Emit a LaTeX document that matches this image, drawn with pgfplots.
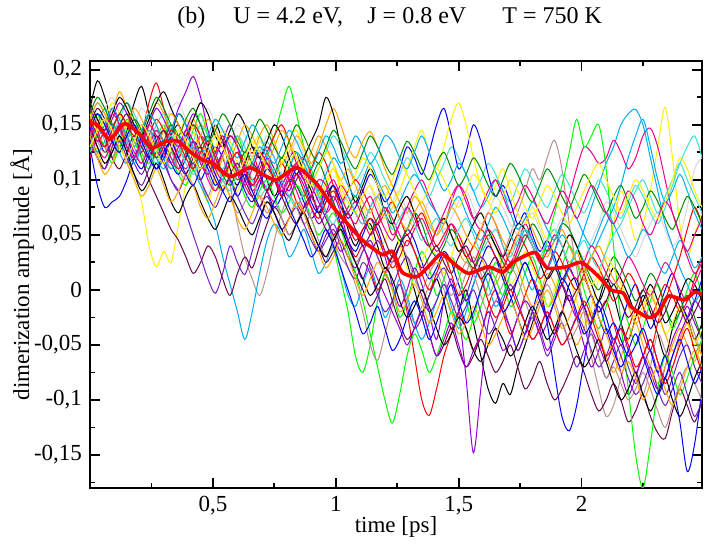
\documentclass[border=0pt]{standalone}
\usepackage{pgfplots}
\pgfplotsset{compat=1.18}
\usepackage{fontspec}
\setmainfont{Liberation Serif}
\definecolor{gbrown}{RGB}{188,143,143}
\definecolor{ggrey}{RGB}{215,215,215}
\definecolor{gviolet}{RGB}{148,0,211}
\definecolor{gorange}{RGB}{255,165,0}
\definecolor{gindigo}{RGB}{114,33,188}
\definecolor{gmaroon}{RGB}{103,7,72}
\definecolor{gturq}{RGB}{64,224,208}
\definecolor{ggreen}{RGB}{0,139,0}
\newcommand{\ser}[2]{\addplot[#1, line width=0.5bp, smooth, tension=0.5] table[row sep=\\, header=false, x expr=\coordindex*0.03, y expr=\thisrowno{0}/1000] {#2};}
\begin{document}
\fontsize{11.5bp}{13.5bp}\selectfont
\begin{tikzpicture}
\path[use as bounding box] (-45bp,-28bp) rectangle (307bp,244bp);
\begin{axis}[
  at={(0,0)}, anchor=south west, scale only axis,
  width=306bp, height=213.5bp,
  xmin=0, xmax=2.49, ymin=-0.18, ymax=0.208,
  xtick={0.5,1,1.5,2}, xticklabels={{0,5},1,{1,5},2},
  minor xtick={0.25,0.75,1.25,1.75,2.25},
  ytick={-0.15,-0.1,-0.05,0,0.05,0.1,0.15,0.2},
  yticklabels={{-0,15},{-0,1},{-0,05},0,{0,05},{0,1},{0,15},{0,2}},
  minor ytick={-0.175,-0.125,-0.075,-0.025,0.025,0.075,0.125,0.175},
  tick align=inside, major tick length=5bp, minor tick length=2.5bp,
  every tick/.style={black, line width=0.9bp},
  axis line style={line width=1bp},
  xlabel={time [ps]}, ylabel={dimerization amplitude [\symbol{"00C5}]},
  xlabel style={at={(axis description cs:0.5,-0.0913)}, anchor=center},
  ylabel style={at={(axis description cs:-0.111,0.5)}, anchor=center},
  clip=true,
]
\ser{black}{165\\190\\175\\150\\130\\145\\170\\185\\160\\135\\120\\140\\160\\150\\125\\110\\130\\150\\135\\110\\95\\115\\130\\120\\100\\85\\100\\120\\125\\105\\90\\70\\80\\95\\80\\55\\40\\55\\60\\40\\20\\30\\45\\25\\0\\-20\\-5\\10\\-10\\-35\\-20\\0\\-30\\-60\\-90\\-103\\-85\\-95\\-70\\-50\\-30\\-10\\-25\\-40\\-20\\5\\10\\-15\\-30\\-10\\10\\-5\\-30\\-45\\-25\\-5\\-20\\-40\\-60\\-35\\-15\\-25\\-45\\-30\\}
\ser{red}{140\\125\\110\\130\\150\\135\\120\\140\\170\\188\\165\\140\\125\\140\\150\\130\\115\\125\\140\\120\\100\\110\\125\\105\\90\\100\\115\\100\\80\\70\\85\\95\\70\\50\\60\\45\\30\\40\\20\\0\\15\\30\\10\\-20\\-60\\-100\\-114\\-90\\-60\\-40\\-20\\-35\\-55\\-40\\-15\\0\\-20\\-40\\-25\\-5\\10\\-5\\-25\\-10\\5\\20\\35\\15\\-5\\-20\\-10\\-30\\-50\\-35\\-20\\-40\\-55\\-30\\-10\\10\\30\\55\\75\\60\\}
\ser{green}{150\\160\\140\\120\\135\\155\\145\\125\\115\\135\\150\\130\\110\\125\\145\\160\\140\\115\\105\\125\\140\\120\\95\\100\\120\\140\\165\\185\\160\\130\\110\\90\\70\\40\\10\\-20\\-60\\-75\\-50\\-10\\15\\0\\-25\\-10\\15\\35\\20\\-5\\10\\30\\15\\-10\\-30\\-15\\5\\25\\10\\-15\\-5\\15\\30\\10\\-15\\-5\\20\\40\\25\\0\\-20\\-35\\-15\\5\\-10\\-30\\-50\\-35\\-10\\5\\-15\\-35\\-20\\0\\15\\-5\\}
\ser{blue}{130\\95\\75\\80\\85\\100\\120\\135\\125\\110\\120\\140\\150\\130\\110\\100\\115\\130\\120\\100\\85\\100\\115\\105\\90\\75\\85\\100\\95\\80\\65\\75\\90\\80\\60\\45\\35\\50\\65\\55\\35\\25\\40\\55\\45\\25\\10\\20\\35\\25\\5\\-10\\5\\25\\40\\30\\10\\-5\\-25\\-40\\-20\\0\\-30\\-75\\-115\\-128\\-105\\-65\\-30\\-10\\-25\\-45\\-30\\-10\\5\\-15\\-35\\-20\\0\\15\\-5\\-25\\-10\\10\\}
\ser{yellow}{145\\125\\110\\130\\140\\120\\100\\80\\40\\21\\35\\25\\60\\95\\110\\95\\80\\100\\120\\105\\90\\110\\130\\140\\125\\105\\115\\135\\145\\125\\100\\85\\95\\110\\90\\70\\60\\75\\55\\35\\45\\60\\40\\20\\5\\25\\40\\30\\15\\30\\50\\35\\20\\40\\55\\40\\20\\5\\15\\35\\20\\5\\-15\\0\\20\\10\\-10\\-30\\-15\\10\\35\\60\\90\\70\\45\\60\\90\\130\\166\\120\\60\\30\\50\\70\\}
\ser{gbrown}{140\\155\\135\\120\\140\\150\\130\\115\\135\\145\\125\\110\\120\\140\\125\\100\\85\\105\\120\\95\\60\\30\\10\\-5\\15\\45\\70\\85\\75\\60\\70\\85\\70\\45\\30\\20\\5\\-20\\-50\\-64\\-40\\-15\\5\\-10\\-30\\-15\\5\\15\\0\\-20\\-5\\15\\30\\15\\-5\\10\\30\\50\\70\\90\\110\\100\\120\\136\\110\\60\\20\\-20\\-60\\-90\\-115\\-105\\-80\\-60\\-75\\-95\\-70\\-40\\-55\\-70\\-45\\-25\\-40\\-60\\}
\ser{ggrey}{160\\150\\165\\175\\160\\140\\150\\165\\155\\140\\150\\165\\170\\155\\140\\150\\165\\150\\130\\135\\150\\140\\120\\125\\140\\130\\115\\120\\135\\125\\105\\95\\110\\115\\95\\80\\90\\105\\95\\75\\65\\80\\90\\70\\55\\65\\80\\70\\55\\65\\80\\90\\75\\60\\70\\85\\75\\60\\50\\60\\70\\55\\40\\50\\65\\55\\40\\30\\45\\60\\80\\70\\55\\40\\30\\45\\60\\70\\55\\40\\50\\75\\110\\120\\}
\ser{gviolet}{150\\135\\145\\165\\150\\130\\120\\140\\160\\150\\135\\145\\165\\180\\194\\175\\145\\125\\135\\150\\130\\105\\95\\115\\130\\120\\100\\90\\105\\95\\75\\60\\70\\85\\70\\45\\25\\10\\30\\45\\30\\5\\-15\\0\\20\\5\\-20\\-45\\-10\\10\\-20\\-80\\-148\\-90\\-30\\-10\\-20\\-35\\-55\\-40\\-20\\-35\\-55\\-40\\-20\\-5\\-25\\-50\\-70\\-55\\-35\\-50\\-75\\-95\\-80\\-60\\-75\\-90\\-70\\-45\\-30\\-15\\-30\\-45\\}
\ser{cyan}{130\\150\\165\\150\\125\\115\\135\\150\\140\\120\\110\\125\\140\\130\\110\\95\\80\\60\\30\\5\\-20\\-45\\-20\\15\\45\\60\\50\\30\\40\\55\\35\\15\\25\\40\\20\\-5\\-15\\5\\20\\0\\-25\\-10\\10\\-5\\-30\\-45\\-30\\-10\\5\\-15\\-35\\-20\\5\\20\\5\\-15\\-5\\15\\30\\15\\0\\20\\40\\25\\5\\20\\35\\55\\75\\95\\115\\130\\150\\160\\164\\150\\120\\90\\60\\40\\20\\5\\-10\\0\\}
\ser{magenta}{120\\140\\155\\140\\125\\135\\150\\140\\125\\130\\145\\135\\120\\110\\125\\140\\130\\110\\100\\115\\125\\105\\90\\100\\115\\105\\90\\100\\115\\120\\105\\85\\70\\80\\95\\85\\70\\60\\75\\85\\70\\50\\60\\75\\90\\100\\85\\70\\60\\80\\95\\85\\65\\55\\70\\60\\40\\25\\40\\60\\45\\30\\20\\35\\60\\85\\110\\130\\125\\115\\120\\136\\125\\110\\120\\140\\147\\130\\100\\70\\50\\30\\15\\25\\}
\ser{gorange}{170\\155\\140\\160\\180\\165\\145\\130\\150\\170\\160\\140\\125\\140\\155\\140\\120\\105\\120\\140\\130\\110\\120\\140\\150\\135\\115\\125\\140\\130\\115\\130\\150\\165\\150\\130\\120\\135\\144\\130\\110\\95\\80\\70\\85\\75\\60\\50\\65\\50\\35\\25\\40\\30\\15\\5\\20\\35\\20\\0\\-15\\-5\\15\\5\\-15\\-35\\-50\\-35\\-20\\-40\\-60\\-75\\-60\\-45\\-30\\-50\\-70\\-85\\-70\\-50\\-35\\-50\\-65\\-45\\}
\ser{gindigo}{140\\120\\110\\130\\145\\130\\115\\105\\120\\135\\120\\100\\90\\70\\50\\30\\10\\-3\\15\\40\\25\\14\\35\\60\\80\\70\\55\\65\\80\\70\\50\\35\\45\\55\\40\\20\\10\\25\\15\\-5\\-20\\-10\\5\\-15\\-35\\-25\\-5\\10\\20\\5\\-15\\-5\\15\\30\\20\\0\\-15\\-35\\-55\\-40\\-25\\-40\\-60\\-45\\-30\\-50\\-70\\-55\\-40\\-60\\-80\\-65\\-50\\-70\\-85\\-70\\-55\\-75\\-95\\-80\\-60\\-50\\-70\\-85\\}
\ser{gmaroon}{135\\150\\140\\120\\110\\125\\140\\120\\100\\85\\70\\55\\45\\30\\15\\25\\40\\30\\10\\-5\\15\\30\\20\\40\\60\\75\\65\\50\\60\\70\\55\\40\\25\\35\\45\\30\\15\\0\\-15\\-5\\10\\-10\\-30\\-45\\-35\\-20\\-40\\-60\\-50\\-35\\-55\\-70\\-60\\-45\\-60\\-75\\-65\\-50\\-70\\-90\\-80\\-65\\-85\\-100\\-90\\-75\\-60\\-75\\-95\\-110\\-100\\-85\\-100\\-120\\-110\\-95\\-115\\-130\\-135\\-110\\-90\\-105\\-120\\-100\\}
\ser{gturq}{155\\170\\160\\145\\155\\170\\160\\145\\135\\150\\160\\145\\130\\120\\135\\150\\140\\120\\110\\125\\140\\130\\115\\125\\135\\120\\105\\110\\125\\115\\100\\110\\125\\140\\130\\115\\100\\110\\125\\115\\100\\90\\105\\120\\110\\95\\85\\100\\115\\130\\120\\105\\90\\100\\115\\105\\90\\80\\95\\110\\100\\85\\75\\90\\105\\95\\80\\70\\85\\100\\90\\75\\65\\80\\95\\85\\70\\60\\75\\95\\115\\130\\140\\120\\}
\ser{ggreen}{145\\160\\150\\135\\125\\140\\155\\145\\130\\120\\135\\150\\140\\125\\115\\130\\140\\125\\105\\95\\110\\125\\115\\100\\90\\105\\120\\110\\95\\85\\100\\115\\100\\80\\65\\75\\85\\70\\55\\65\\75\\60\\45\\55\\70\\60\\40\\30\\40\\55\\45\\30\\20\\35\\50\\40\\25\\15\\30\\45\\60\\50\\35\\45\\60\\55\\40\\25\\10\\0\\15\\30\\20\\5\\-10\\0\\15\\5\\-15\\-30\\-20\\-5\\-25\\-45\\}
\ser{black}{170\\155\\145\\160\\175\\165\\150\\140\\155\\170\\180\\165\\150\\140\\155\\170\\160\\140\\130\\145\\160\\150\\130\\120\\135\\150\\140\\120\\105\\120\\135\\150\\175\\160\\130\\100\\80\\95\\110\\95\\70\\60\\75\\85\\70\\50\\40\\55\\65\\50\\35\\45\\60\\70\\55\\40\\30\\45\\60\\55\\40\\25\\10\\20\\35\\50\\40\\20\\5\\-10\\5\\20\\10\\-5\\-20\\-10\\5\\-10\\-30\\-20\\-5\\10\\5\\-10\\}
\ser{red}{160\\145\\130\\145\\160\\150\\135\\125\\140\\155\\145\\130\\120\\135\\150\\140\\125\\110\\125\\140\\130\\115\\100\\110\\125\\140\\150\\135\\115\\100\\110\\125\\115\\95\\80\\90\\100\\90\\75\\60\\70\\80\\65\\50\\60\\70\\55\\40\\50\\60\\45\\30\\40\\55\\45\\30\\20\\35\\50\\40\\25\\10\\20\\35\\25\\10\\0\\15\\30\\20\\5\\-10\\0\\15\\5\\-15\\-25\\-10\\5\\-5\\-20\\-10\\10\\30\\}
\ser{green}{125\\140\\130\\115\\130\\145\\135\\120\\110\\125\\135\\120\\105\\95\\110\\120\\105\\90\\100\\115\\105\\85\\75\\90\\100\\85\\70\\80\\95\\85\\65\\50\\60\\70\\55\\35\\15\\-10\\-40\\-70\\-100\\-121\\-95\\-60\\-40\\-55\\-75\\-60\\-40\\-20\\-30\\-45\\-25\\0\\20\\10\\-5\\15\\35\\50\\40\\25\\45\\70\\95\\125\\155\\130\\140\\150\\110\\40\\-30\\-90\\-150\\-180\\-140\\-90\\-60\\-75\\-95\\-80\\-60\\-45\\}
\ser{blue}{150\\140\\125\\135\\150\\140\\120\\110\\125\\140\\130\\115\\105\\120\\135\\125\\110\\95\\105\\120\\110\\90\\80\\95\\110\\100\\85\\95\\110\\100\\80\\70\\85\\95\\80\\65\\75\\90\\105\\95\\80\\90\\110\\130\\120\\105\\125\\150\\165\\140\\110\\125\\150\\135\\105\\85\\95\\80\\60\\70\\50\\35\\45\\30\\10\\20\\5\\-15\\-5\\-25\\-40\\-30\\-45\\-60\\-50\\-35\\-55\\-75\\-60\\-85\\-120\\-165\\-140\\-90\\}
\ser{yellow}{160\\145\\155\\170\\160\\140\\130\\145\\160\\150\\135\\125\\140\\155\\145\\125\\115\\130\\145\\135\\115\\105\\120\\135\\125\\110\\100\\115\\125\\110\\95\\85\\100\\110\\95\\80\\70\\85\\95\\80\\65\\75\\90\\110\\130\\145\\125\\110\\130\\155\\170\\150\\120\\95\\80\\95\\110\\90\\70\\60\\75\\60\\45\\55\\40\\25\\35\\20\\5\\15\\30\\20\\5\\-10\\-25\\-15\\0\\-20\\-40\\-30\\-15\\-30\\-50\\-35\\}
\ser{gbrown}{150\\135\\125\\140\\150\\135\\120\\130\\145\\130\\115\\125\\110\\100\\115\\125\\105\\90\\100\\85\\70\\80\\95\\85\\70\\80\\65\\50\\60\\75\\65\\45\\30\\40\\55\\40\\25\\35\\45\\30\\15\\25\\40\\30\\10\\0\\15\\25\\10\\-5\\10\\25\\15\\-5\\-20\\-10\\5\\20\\10\\-10\\-25\\-10\\5\\-10\\-30\\-45\\-35\\-20\\-40\\-60\\-80\\-70\\-85\\-100\\-90\\-75\\-90\\-110\\-125\\-105\\-85\\-70\\-85\\-100\\}
\ser{gviolet}{165\\150\\140\\155\\170\\160\\145\\135\\150\\165\\155\\140\\130\\145\\160\\150\\130\\115\\125\\140\\130\\110\\95\\105\\120\\110\\95\\85\\100\\110\\95\\80\\65\\50\\35\\45\\55\\40\\25\\10\\-5\\-20\\-35\\-50\\-35\\-20\\-40\\-60\\-45\\-30\\-50\\-70\\-55\\-40\\-20\\-35\\-55\\-45\\-25\\-10\\-20\\-40\\-30\\-10\\5\\-10\\-25\\-15\\-35\\-50\\-65\\-50\\-35\\-55\\-75\\-60\\-45\\-65\\-80\\-60\\-40\\-25\\-10\\-20\\}
\ser{cyan}{140\\125\\135\\150\\140\\125\\115\\130\\145\\135\\120\\110\\125\\140\\130\\115\\105\\120\\135\\125\\110\\100\\115\\130\\120\\105\\95\\110\\125\\115\\100\\90\\105\\120\\110\\95\\85\\100\\115\\100\\85\\70\\80\\95\\105\\95\\80\\70\\60\\75\\85\\70\\55\\45\\60\\75\\65\\50\\40\\55\\45\\30\\20\\35\\50\\40\\25\\15\\30\\45\\60\\75\\95\\120\\140\\155\\130\\100\\80\\90\\105\\90\\70\\55\\}
\ser{magenta}{145\\130\\120\\135\\150\\140\\125\\115\\130\\145\\135\\120\\110\\125\\135\\120\\100\\90\\105\\120\\110\\95\\85\\100\\90\\80\\95\\105\\90\\75\\85\\100\\95\\75\\60\\70\\80\\65\\50\\60\\75\\65\\50\\40\\55\\65\\50\\35\\45\\60\\50\\35\\25\\40\\55\\45\\30\\20\\35\\50\\40\\25\\35\\50\\40\\20\\10\\25\\40\\30\\15\\5\\15\\30\\20\\5\\-5\\10\\25\\15\\0\\-10\\5\\20\\}
\ser{gorange}{155\\170\\160\\145\\135\\150\\165\\155\\140\\130\\145\\160\\150\\135\\125\\140\\155\\145\\130\\120\\135\\150\\140\\125\\115\\130\\145\\135\\120\\110\\125\\140\\130\\115\\100\\110\\95\\80\\70\\85\\95\\80\\65\\55\\70\\80\\65\\50\\60\\75\\65\\50\\40\\55\\70\\60\\45\\35\\50\\65\\55\\40\\30\\45\\55\\40\\25\\15\\30\\40\\25\\10\\0\\-15\\-30\\-20\\-5\\-20\\-40\\-55\\-45\\-30\\-45\\-60\\}
\ser{gindigo}{135\\120\\110\\125\\135\\120\\105\\95\\110\\125\\115\\100\\90\\105\\115\\100\\85\\75\\90\\100\\85\\70\\60\\75\\85\\70\\55\\65\\75\\60\\45\\35\\50\\60\\45\\30\\20\\35\\45\\30\\15\\5\\20\\30\\15\\-5\\-20\\-10\\5\\-10\\-25\\-15\\0\\-20\\-40\\-30\\-10\\5\\-10\\-30\\-45\\-35\\-20\\-35\\-50\\-40\\-25\\-35\\-55\\-70\\-60\\-45\\-60\\-80\\-95\\-85\\-70\\-90\\-105\\-90\\-75\\-95\\-115\\-100\\}
\ser{gmaroon}{150\\165\\155\\140\\150\\160\\145\\130\\120\\135\\145\\130\\115\\105\\120\\130\\115\\100\\90\\105\\115\\100\\85\\75\\90\\100\\85\\70\\60\\75\\85\\70\\55\\45\\60\\70\\55\\40\\50\\60\\45\\30\\40\\50\\35\\20\\30\\40\\25\\15\\30\\40\\25\\10\\20\\30\\15\\0\\10\\25\\10\\-5\\10\\20\\5\\-10\\0\\10\\-5\\-20\\-10\\5\\-10\\-25\\-15\\0\\-15\\-30\\-20\\-5\\-15\\-30\\-20\\-5\\}
\ser{gturq}{130\\145\\155\\140\\125\\135\\150\\140\\125\\115\\130\\140\\130\\115\\105\\120\\130\\115\\100\\90\\105\\115\\100\\85\\95\\110\\100\\85\\75\\90\\100\\85\\70\\60\\75\\85\\70\\60\\75\\85\\70\\55\\65\\75\\60\\45\\55\\65\\50\\40\\55\\65\\50\\35\\45\\55\\40\\30\\45\\55\\40\\30\\45\\55\\40\\25\\35\\45\\30\\20\\35\\50\\60\\75\\90\\100\\85\\70\\85\\100\\115\\100\\85\\70\\}
\ser{black}{150\\130\\115\\125\\140\\125\\105\\90\\100\\115\\100\\80\\70\\85\\95\\80\\65\\55\\70\\85\\75\\60\\50\\65\\80\\70\\55\\45\\60\\70\\55\\40\\30\\45\\55\\40\\25\\10\\-5\\5\\20\\10\\-10\\-25\\-15\\0\\-15\\-35\\-50\\-40\\-25\\-35\\-55\\-65\\-50\\-35\\-45\\-60\\-50\\-30\\-15\\-30\\-45\\-35\\-20\\-35\\-55\\-70\\-60\\-45\\-65\\-85\\-100\\-90\\-75\\-95\\-110\\-95\\-80\\-100\\-115\\-100\\-80\\-65\\}
\ser{ggreen}{160\\175\\165\\150\\160\\170\\155\\145\\160\\175\\165\\150\\140\\155\\165\\150\\135\\145\\160\\150\\135\\125\\140\\155\\145\\130\\120\\135\\150\\140\\125\\115\\130\\145\\135\\120\\110\\125\\140\\130\\115\\105\\120\\135\\125\\110\\100\\115\\125\\110\\95\\105\\120\\110\\95\\85\\100\\115\\105\\90\\80\\95\\110\\100\\85\\75\\90\\105\\95\\80\\70\\85\\95\\80\\65\\75\\90\\80\\65\\55\\70\\85\\75\\60\\}
\ser{gorange}{140\\120\\105\\115\\130\\115\\100\\85\\95\\110\\95\\80\\90\\105\\95\\75\\65\\80\\95\\85\\65\\55\\70\\85\\75\\60\\50\\65\\80\\70\\50\\35\\20\\30\\45\\30\\10\\-5\\10\\25\\15\\0\\-20\\-10\\5\\-10\\-30\\-20\\-5\\-20\\-40\\-30\\-15\\-30\\-50\\-40\\-25\\-10\\-25\\-45\\-35\\-15\\0\\-15\\-35\\-25\\-5\\10\\-5\\-25\\-40\\-60\\-75\\-65\\-80\\-100\\-85\\-70\\-90\\-105\\-90\\-70\\-55\\-70\\}
\ser{cyan}{155\\140\\150\\165\\155\\140\\130\\145\\160\\150\\135\\145\\160\\150\\135\\125\\140\\155\\145\\130\\120\\135\\150\\140\\125\\115\\130\\145\\135\\120\\110\\125\\140\\130\\115\\125\\140\\130\\115\\125\\140\\135\\120\\110\\125\\140\\125\\105\\90\\100\\115\\105\\90\\75\\85\\100\\90\\70\\55\\65\\80\\70\\55\\45\\60\\75\\65\\50\\40\\55\\70\\60\\45\\30\\40\\55\\45\\25\\15\\30\\45\\35\\20\\30\\}
\ser{blue}{145\\160\\150\\135\\125\\140\\150\\135\\120\\110\\125\\135\\120\\105\\95\\110\\120\\105\\90\\80\\95\\105\\90\\75\\65\\80\\90\\75\\60\\45\\30\\40\\55\\40\\20\\0\\-20\\-40\\-30\\-15\\-35\\-55\\-45\\-25\\-10\\-25\\-45\\-30\\-10\\5\\-10\\-30\\-20\\0\\15\\0\\-20\\-10\\10\\25\\10\\-10\\-25\\-10\\10\\0\\-20\\-40\\-30\\-15\\-35\\-55\\-70\\-55\\-40\\-60\\-80\\-95\\-80\\-60\\-45\\-65\\-85\\-70\\}
\ser{magenta}{150\\135\\145\\160\\150\\130\\120\\135\\150\\140\\125\\115\\130\\145\\135\\115\\105\\120\\135\\125\\105\\95\\110\\125\\115\\100\\90\\105\\115\\100\\85\\75\\90\\100\\85\\70\\60\\75\\85\\70\\55\\45\\60\\75\\65\\50\\40\\55\\70\\85\\95\\80\\65\\75\\90\\100\\85\\70\\80\\95\\85\\70\\60\\75\\90\\80\\65\\80\\95\\85\\70\\60\\75\\90\\80\\60\\50\\65\\80\\70\\50\\35\\50\\65\\}
\ser{red}{155\\140\\130\\145\\160\\150\\140\\150\\135\\120\\130\\145\\135\\120\\110\\125\\135\\120\\105\\115\\125\\110\\95\\105\\115\\100\\85\\95\\105\\90\\75\\65\\80\\90\\75\\60\\45\\55\\65\\50\\35\\20\\30\\45\\35\\15\\0\\15\\30\\15\\-5\\5\\20\\10\\-10\\-25\\-15\\0\\-15\\-30\\-45\\-35\\-20\\-35\\-50\\-40\\-25\\-10\\-25\\-45\\-60\\-50\\-35\\-50\\-70\\-60\\-45\\-65\\-85\\-70\\-50\\-35\\-55\\-75\\}
\ser{yellow}{130\\145\\155\\145\\130\\120\\135\\150\\140\\125\\115\\130\\145\\135\\120\\110\\125\\140\\130\\115\\105\\120\\135\\125\\110\\100\\115\\130\\120\\105\\95\\110\\125\\115\\100\\90\\105\\120\\110\\95\\85\\100\\115\\105\\90\\80\\95\\110\\100\\85\\75\\90\\105\\95\\80\\70\\85\\100\\90\\75\\65\\80\\95\\85\\70\\60\\75\\90\\105\\115\\100\\85\\70\\85\\100\\90\\75\\65\\80\\100\\120\\110\\90\\75\\}
\addplot[red, line width=1.8bp, smooth, tension=0.4] coordinates {(0,0.152)(0.03,0.150)(0.08,0.137)(0.14,0.151)(0.2,0.142)(0.25,0.129)(0.31,0.135)(0.36,0.135)(0.41,0.125)(0.46,0.118)(0.5,0.115)(0.57,0.103)(0.65,0.111)(0.71,0.104)(0.76,0.1)(0.84,0.111)(0.92,0.097)(0.99,0.075)(1.08,0.052)(1.12,0.043)(1.19,0.032)(1.23,0.035)(1.27,0.016)(1.33,0.012)(1.38,0.022)(1.43,0.033)(1.48,0.024)(1.54,0.015)(1.62,0.021)(1.68,0.016)(1.72,0.025)(1.81,0.034)(1.86,0.02)(1.94,0.021)(2.0,0.025)(2.07,0.012)(2.12,0.0)(2.17,-0.003)(2.2,-0.015)(2.27,-0.025)(2.31,-0.021)(2.35,-0.006)(2.37,-0.006)(2.42,-0.009)(2.46,-0.002)(2.49,-0.004)};
\end{axis}
\begin{scope}[every node/.style={anchor=base west, inner sep=0pt, font=\fontsize{12bp}{14bp}\selectfont}]
\node at (43.5bp,232bp) {(b)};
\node at (71.5bp,232bp) {U = 4.2 eV,};
\node at (138.5bp,232bp) {J = 0.8 eV};
\node at (206bp,232bp) {T = 750 K};
\end{scope}
\end{tikzpicture}
\end{document}
